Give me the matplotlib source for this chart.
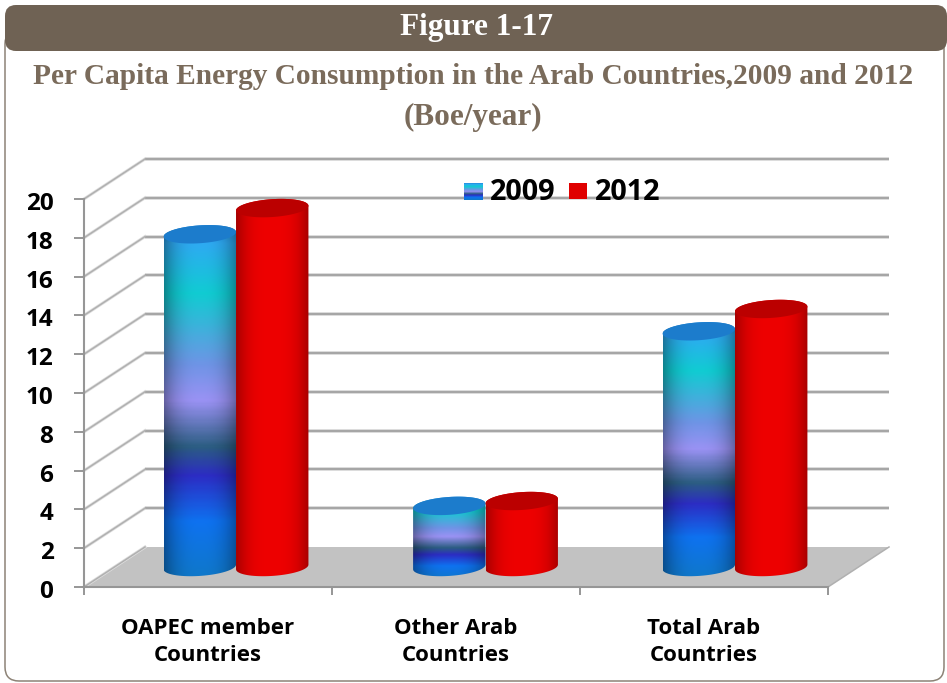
# plot.py
# Per capita energy consumption chart, drawn as a fake 3D cylinder column chart.
import numpy as np
import matplotlib
matplotlib.use("Agg")
import matplotlib.pyplot as plt
from matplotlib.colors import LinearSegmentedColormap, to_rgb
from matplotlib.patches import FancyBboxPatch, PathPatch, Polygon, Rectangle
from matplotlib.path import Path
from matplotlib.transforms import ScaledTranslation

# --- Data ---
CATEGORIES = ["OAPEC member\nCountries", "Other Arab\nCountries", "Total Arab\nCountries"]
SERIES_NAMES = ["2009", "2012"]
VALUES_2009 = [17.15, 3.15, 12.15]
VALUES_2012 = [18.5, 3.4, 13.3]
Y_TICKS = list(range(0, 21, 2))

# --- Look ---
W, H = 947, 683
BROWN = "#6f6254"
TITLE_COLOR = "#7a6b5b"
GRID = "#a6a6a6"
FLOOR = "#c2c2c2"
BLUE_STOPS = [
    (0.00, "#0f78c8"), (0.16, "#0e72f0"), (0.29, "#2c2cc4"), (0.37, "#2b5d82"),
    (0.50, "#9a92f4"), (0.60, "#6f94e6"), (0.80, "#10ccd2"), (0.94, "#2eaaf2"),
    (1.00, "#2288dc"),
]
BAR_WIDTH = 0.292
GROUP_START = 0.49   # centre of the first bar pair, before depth shift
GROUP_STEP = 1.006
DEPTH_X = 61 / 248   # floor depth in category units
DEPTH_Y = 40 / 19.4  # floor depth in value units
ELLIPSE_B = 0.46     # cylinder end height in value units
ELLIPSE_TILT = 0.12

blue_cmap = LinearSegmentedColormap.from_list("blue_bar", BLUE_STOPS)


def cylinder_paths(cx, base, top):
    a = BAR_WIDTH / 2
    t1 = np.linspace(np.pi, 2 * np.pi, 40)
    t2 = np.linspace(0, np.pi, 40)
    low = np.column_stack([cx + a * np.cos(t1), base + ELLIPSE_B * np.sin(t1) + ELLIPSE_TILT * np.cos(t1)])
    high = np.column_stack([cx + a * np.cos(t2), top + ELLIPSE_B * np.sin(t2) + ELLIPSE_TILT * np.cos(t2)])
    t3 = np.linspace(0, 2 * np.pi, 80)
    cap = np.column_stack([cx + a * np.cos(t3), top + ELLIPSE_B * np.sin(t3) + ELLIPSE_TILT * np.cos(t3)])
    return np.vstack([low, high]), cap


def body_image(kind):
    u = np.linspace(-1, 1, 80)
    v = np.linspace(0, 1, 300)
    shade = 1 - 0.34 * np.abs(u) ** 2.6
    if kind == "2009":
        rgb = blue_cmap(v)[:, :3][:, None, :]
        img = rgb * shade[None, :, None]
    else:
        base = np.array(to_rgb("#ee0000"))
        img = np.ones((v.size, u.size, 3)) * base
        img = img * (1 - 0.30 * np.abs(u) ** 3.0)[None, :, None]
        img[:, :, 1:] = 0
    return np.clip(img, 0, 1)


def draw_cylinder(ax, fig, cx, value, kind):
    base = DEPTH_Y / 2
    top = base + value
    body, cap = cylinder_paths(cx, base, top)
    patch = Polygon(body, closed=True, facecolor="none", edgecolor="none", zorder=5)
    ax.add_patch(patch)
    im = ax.imshow(body_image(kind), origin="lower", aspect="auto", interpolation="bilinear",
                   extent=[cx - BAR_WIDTH / 2, cx + BAR_WIDTH / 2, base - ELLIPSE_B - 0.2, top + ELLIPSE_B + 0.2],
                   zorder=5)
    im.set_clip_path(patch)
    im.set_clip_box(fig.bbox)
    cap_color = "#1c7ccc" if kind == "2009" else "#bb0000"
    ax.add_patch(PathPatch(Path(cap, closed=False), facecolor=cap_color, edgecolor="none",
                           zorder=6, clip_on=False))


def main():
    fig = plt.figure(figsize=(W / 100, H / 100), dpi=100, facecolor="white")

    # Frame, header band and titles sit in a pixel-sized background axes
    bg = fig.add_axes([0, 0, 1, 1], zorder=0)
    bg.set_xlim(0, W)
    bg.set_ylim(H, 0)
    bg.axis("off")
    bg.add_patch(FancyBboxPatch((5, 30), 939, 651, boxstyle="round,pad=0,rounding_size=14",
                                facecolor="white", edgecolor="#8d8377", linewidth=1.1))
    bg.add_patch(FancyBboxPatch((5, 5), 942, 46, boxstyle="round,pad=0,rounding_size=11",
                                facecolor=BROWN, edgecolor="none"))
    serif = "Liberation Serif"
    bg.text(477, 28, "Figure 1-17", color="white", family=serif, weight="bold", fontsize=22.5,
            ha="center", va="center")
    bg.text(473, 77, "Per Capita Energy Consumption in the Arab Countries,2009 and 2012",
            color=TITLE_COLOR, family=serif, weight="bold", fontsize=21.2, ha="center", va="center")
    bg.text(473, 117, "(Boe/year)", color=TITLE_COLOR, family=serif, weight="bold", fontsize=22.5,
            ha="center", va="center")

    # Chart: front plane of the box is the real axes
    ax = fig.add_axes([84 / W, (H - 587) / H, 744 / W, 388 / H], zorder=1)
    ax.patch.set_alpha(0)
    n = len(CATEGORIES)

    # Floor
    ax.add_patch(Polygon([(0, 0), (n, 0), (n + DEPTH_X, DEPTH_Y), (DEPTH_X, DEPTH_Y)], closed=True,
                         facecolor=FLOOR, edgecolor="none", clip_on=False, zorder=1))

    # Back wall grid and left wall lines
    for v in Y_TICKS:
        if v > 0:
            ax.plot([DEPTH_X, n + DEPTH_X], [v + DEPTH_Y, v + DEPTH_Y], color="#dedede", lw=2.8,
                    clip_on=False, zorder=1, solid_capstyle="butt")
            ax.plot([DEPTH_X, n + DEPTH_X], [v + DEPTH_Y, v + DEPTH_Y], color=GRID, lw=1.5,
                    clip_on=False, zorder=2, solid_capstyle="butt")
        ax.plot([0, DEPTH_X], [v, v + DEPTH_Y], color="#dedede", lw=2.2, clip_on=False, zorder=1)
        ax.plot([0, DEPTH_X], [v, v + DEPTH_Y], color="#b0b0b0", lw=1.1, clip_on=False, zorder=2)
    ax.plot([n, n + DEPTH_X], [0, DEPTH_Y], color="#b0b0b0", lw=1.1, clip_on=False, zorder=2)

    # Cylinders
    ax.set_xlim(0, n)
    ax.set_ylim(0, 20)
    for i in range(n):
        cx = GROUP_START + i * GROUP_STEP + DEPTH_X / 2
        draw_cylinder(ax, fig, cx - BAR_WIDTH / 2, VALUES_2009[i], "2009")
        draw_cylinder(ax, fig, cx + BAR_WIDTH / 2, VALUES_2012[i], "2012")
    ax.set_xlim(0, n)
    ax.set_ylim(0, 20)

    # Axes, ticks and labels
    for side in ["top", "right"]:
        ax.spines[side].set_visible(False)
    for side in ["left", "bottom"]:
        ax.spines[side].set_color("#969696")
        ax.spines[side].set_linewidth(1.5)
    sans = "Open Sans"
    ax.set_yticks(Y_TICKS)
    ax.set_yticklabels([str(v) for v in Y_TICKS], family=sans, weight="bold", fontsize=17.5, color="black")
    ax.tick_params(axis="y", length=7, width=1.4, color="#969696", pad=15)
    # labels sit a little under their ticks in the original
    nudge = ScaledTranslation(0, -2 / 100, fig.dpi_scale_trans)
    for label in ax.get_yticklabels():
        label.set_transform(label.get_transform() + nudge)
    ax.set_xticks(range(n + 1))
    ax.set_xticklabels([""] * (n + 1))
    ax.tick_params(axis="x", which="major", length=6, width=1.4, color="#969696")
    ax.set_xticks([i + 0.5 for i in range(n)], minor=True)
    ax.set_xticklabels(CATEGORIES, minor=True, family=sans, weight="bold", fontsize=16, color="black",
                       linespacing=1.41)
    ax.tick_params(axis="x", which="minor", length=0, pad=22)

    # Legend on top of the grid
    fg = fig.add_axes([0, 0, 1, 1], zorder=2)
    fg.patch.set_alpha(0)
    fg.set_xlim(0, W)
    fg.set_ylim(H, 0)
    fg.axis("off")
    swatch = blue_cmap(np.linspace(0, 1, 64))[:, :3][:, None, :]
    fg.imshow(swatch, origin="lower", aspect="auto", extent=[464, 483, 200, 183], zorder=3)
    fg.add_patch(Rectangle((569, 183), 18, 16, facecolor="#e00000", edgecolor="none", zorder=3))
    fg.text(490, 193, SERIES_NAMES[0], family=sans, weight="bold", fontsize=20.8, ha="left", va="center")
    fg.text(595, 193, SERIES_NAMES[1], family=sans, weight="bold", fontsize=20.8, ha="left", va="center")
    fg.set_xlim(0, W)
    fg.set_ylim(H, 0)

    fig.savefig("out.png", dpi=100)


if __name__ == "__main__":
    main()
